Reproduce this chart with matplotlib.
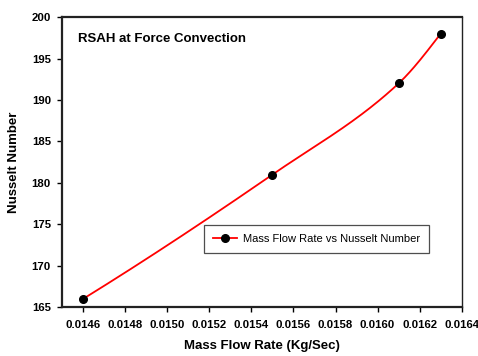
import numpy as np
import matplotlib.pyplot as plt

plt.rcParams['font.family'] = ['Liberation Sans', 'DejaVu Sans']

mass_flow = [0.0146, 0.0155, 0.0161, 0.0163]
nusselt = [166, 181, 192, 198]
x_ticks = [0.0146, 0.0148, 0.0150, 0.0152, 0.0154, 0.0156, 0.0158, 0.0160, 0.0162, 0.0164]
y_ticks = [165, 170, 175, 180, 185, 190, 195, 200]


def pchip(x, y, xs):
    # shape-preserving piecewise cubic (Fritsch-Carlson) for the smooth line
    x = np.asarray(x, float)
    y = np.asarray(y, float)
    h = np.diff(x)
    d = np.diff(y) / h
    n = len(x)
    m = np.zeros(n)
    for k in range(1, n - 1):
        w1 = 2 * h[k] + h[k - 1]
        w2 = h[k] + 2 * h[k - 1]
        m[k] = (w1 + w2) / (w1 / d[k - 1] + w2 / d[k])
    m[0] = ((2 * h[0] + h[1]) * d[0] - h[0] * d[1]) / (h[0] + h[1])
    m[-1] = ((2 * h[-1] + h[-2]) * d[-1] - h[-1] * d[-2]) / (h[-1] + h[-2])
    out = np.empty_like(xs)
    for j, xv in enumerate(xs):
        i = min(max(np.searchsorted(x, xv) - 1, 0), n - 2)
        t = (xv - x[i]) / h[i]
        h00 = 2 * t ** 3 - 3 * t ** 2 + 1
        h10 = t ** 3 - 2 * t ** 2 + t
        h01 = -2 * t ** 3 + 3 * t ** 2
        h11 = t ** 3 - t ** 2
        out[j] = h00 * y[i] + h10 * h[i] * m[i] + h01 * y[i + 1] + h11 * h[i] * m[i + 1]
    return out


fig = plt.figure(figsize=(4.78, 3.56), dpi=100)
ax = fig.add_axes([0.1297, 0.137, 0.8363, 0.815])

xs = np.linspace(mass_flow[0], mass_flow[-1], 300)
ax.plot(xs, pchip(mass_flow, nusselt, xs), color='red', lw=1.3, zorder=2)
ax.plot(mass_flow, nusselt, 'o', color='black', ms=5.5, zorder=3)

# legend entry: line with marker
ax.plot([], [], '-o', color='red', mfc='black', mec='black', ms=5.5, lw=1.3,
        label='Mass Flow Rate vs Nusselt Number')
leg = ax.legend(loc='upper left', bbox_to_anchor=(0.355, 0.283), fontsize=8,
                frameon=True, fancybox=False, shadow=False, handlelength=2.2,
                borderpad=0.8, handletextpad=0.5, borderaxespad=0)
leg.get_frame().set_edgecolor('#222222')
leg.get_frame().set_linewidth(0.9)

ax.set_xlim(0.0145, 0.0164)
ax.set_ylim(165, 200)
ax.set_xticks(x_ticks)
ax.set_xticklabels([f'{v:.4f}' for v in x_ticks])
ax.set_yticks(y_ticks)
ax.tick_params(direction='out', length=3.5, width=1, labelsize=8.2, pad=4.5)
for lbl in ax.get_xticklabels() + ax.get_yticklabels():
    lbl.set_fontweight('bold')
ax.tick_params(axis='x', pad=6)

for side in ['left', 'bottom', 'top']:
    ax.spines[side].set_linewidth(1.6)
    ax.spines[side].set_color('#222222')
ax.spines['right'].set_linewidth(1.0)
ax.spines['right'].set_color('#222222')

ax.set_xlabel('Mass Flow Rate (Kg/Sec)', fontsize=9.5, fontweight='bold', labelpad=7)
ax.set_ylabel('Nusselt Number', fontsize=9.5, fontweight='bold', labelpad=8)
ax.text(0.04, 0.945, 'RSAH at Force Convection', transform=ax.transAxes,
        fontsize=9.5, fontweight='bold', va='top', ha='left')

fig.savefig('out.png', dpi=100)
